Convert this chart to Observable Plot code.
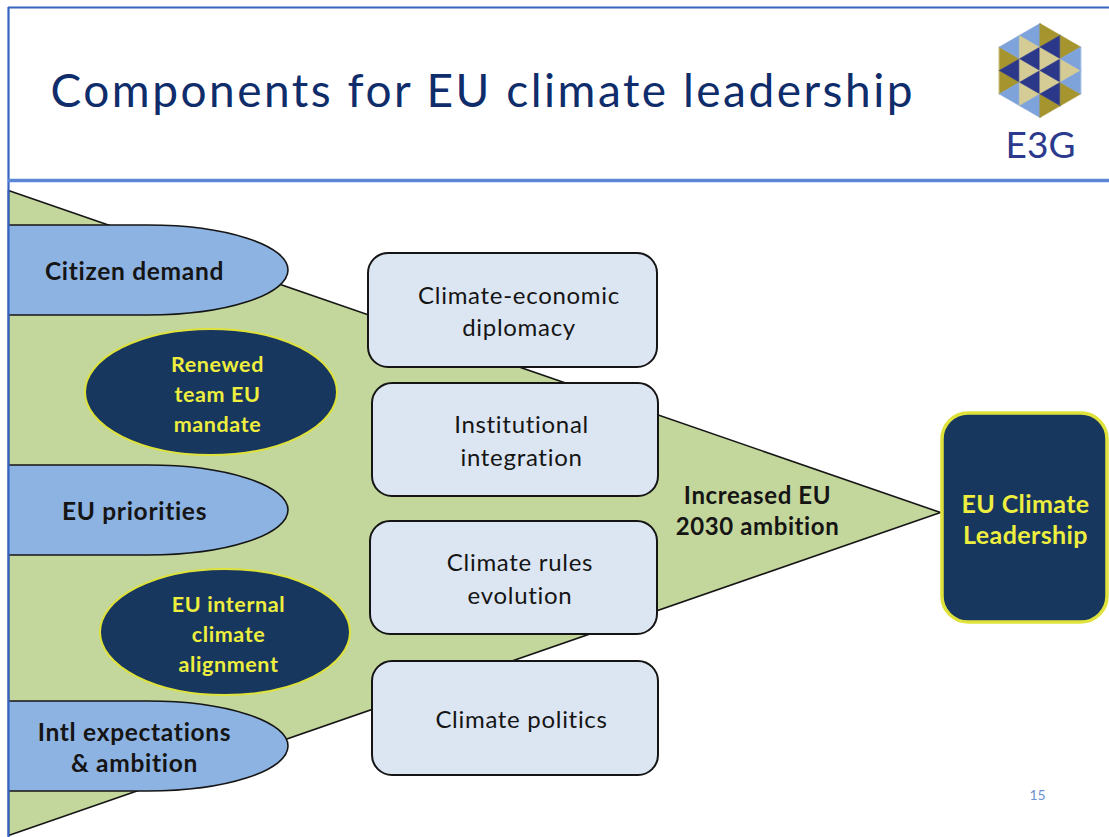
<!DOCTYPE html>
<html><head><meta charset="utf-8">
<script src="https://cdn.jsdelivr.net/npm/d3@7"></script>
<script src="https://cdn.jsdelivr.net/npm/@observablehq/plot@0.6"></script>
<style>body{margin:0;background:#fff}#chart svg{display:block}</style>
</head><body><div id="chart"></div>
<script>
// ---------------- data ----------------
const title = "Components for EU climate leadership";
const drivers = ["Citizen demand", "EU priorities", "Intl expectations\n& ambition"];
const enablers = ["Renewed\nteam EU\nmandate", "EU internal\nclimate\nalignment"];
const components = ["Climate-economic\ndiplomacy", "Institutional\nintegration", "Climate rules\nevolution", "Climate politics"];
const outcome = ["Increased EU\n2030 ambition"];
const goal = ["EU Climate\nLeadership"];
const brand = ["E3G"];
const pageNumber = ["15"];

// ---------------- layout (pixels) ----------------
const W = 1109, H = 837;
const L = {
  frameX: 8, frameY: 7, ruleY: 180,
  funnel: [[8, 190], [940, 512], [8, 835]],
  driverY: [270, 510, 746], driverRY: 45, driverRight: 288, driverRX: 140, driverTextX: 134,
  enabler: [{cx: 211, cy: 392, rx: 126, ry: 63, tx: 217}, {cx: 225, cy: 632, rx: 125, ry: 63, tx: 228}],
  comp: [
    {x1: 368, x2: 657, y1: 253, y2: 367},
    {x1: 372, x2: 658, y1: 383, y2: 496},
    {x1: 370, x2: 657, y1: 521, y2: 634},
    {x1: 372, x2: 658, y1: 661, y2: 775}
  ],
  compTextShift: 6,
  outcome: {x: 757, y: 509},
  goal: {x1: 942, x2: 1107, y1: 413, y2: 622, tx: 1025, ty: 518},
  title: {x: 50, y: 92},
  logo: {cx: 1039.5, cy: 70, R: 47, tx: 1040, ty: 146},
  page: {x: 1037, y: 795}
};
// letter spacing per text mark (in mark order) to approximate the original Calibri widths
const spacing = [0.7, 0.6, 0.7, 0.6, 0.4, 2.5, 0, 0];
const C = {
  green: "#c3d69b", lightBlue: "#8db3e2", navy: "#17375e", yellow: "#dfe23a", textYellow: "#eeee3e",
  box: "#dce6f2", ink: "#151515", title: "#0f2c6b", border: "#3664c2", rule: "#5b87d6", page: "#6f91d3"
};
// logo palette and pattern (per column: right-pointing then left-pointing triangles, top to bottom)
const LC = {n: "#2b3788", o: "#a6952f", t: "#d5cb94", b: "#7ea2da"};
const logoPattern = [
  {right: "oo", left: "bnb"},
  {right: "ttt", left: "bnnb"},
  {right: "otto", left: "nnn"},
  {right: "oto", left: "bb"}
];

// ---------------- geometry built from layout ----------------
const funnelPts = L.funnel.map(([x, y]) => ({x, y}));

const logoTris = [];
{
  const {cx, cy, R} = L.logo;
  const s = R / 2, w = s * Math.sqrt(3) / 2;
  const half = x => R - Math.abs(x - cx) / Math.sqrt(3);
  logoPattern.forEach((col, c) => {
    const xL = cx + (c - 2) * w, xR = xL + w;
    const add = (xBase, xApex, pattern) => {
      const h = half(xBase);
      [...pattern].forEach((k, j) => {
        const y0 = cy - h + j * s;
        const id = `${c}-${xBase}-${j}`;
        logoTris.push({id, x: xBase, y: y0, color: LC[k]});
        logoTris.push({id, x: xApex, y: y0 + s / 2, color: LC[k]});
        logoTris.push({id, x: xBase, y: y0 + s, color: LC[k]});
      });
    };
    add(xL, xR, col.right);
    add(xR, xL, col.left);
  });
}

const label = d => d;

const chart = Plot.plot({
  width: W, height: H,
  marginTop: 0, marginRight: 0, marginBottom: 0, marginLeft: L.frameX,
  x: {domain: [L.frameX, W], axis: null},
  y: {domain: [0, H], reverse: true, axis: null},
  color: {type: "identity"},
  style: {fontFamily: "Lato, 'Open Sans', sans-serif", background: "#fff", overflow: "visible"},
  marks: [
    // funnel triangle
    Plot.line(funnelPts, {x: "x", y: "y", curve: "linear-closed", fill: C.green, stroke: C.ink, strokeWidth: 1.6}),
    // driver (delay) shapes
    Plot.rect(drivers, {
      x1: L.driverRight - 2 * L.driverRX - 160, x2: L.driverRight,
      y1: (d, i) => L.driverY[i] - L.driverRY, y2: (d, i) => L.driverY[i] + L.driverRY,
      rx: L.driverRX, ry: L.driverRY, fill: C.lightBlue, stroke: C.ink, strokeWidth: 1.6, clip: true
    }),
    // enabler ellipses
    Plot.rect(enablers, {
      x1: (d, i) => L.enabler[i].cx - L.enabler[i].rx, x2: (d, i) => L.enabler[i].cx + L.enabler[i].rx,
      y1: (d, i) => L.enabler[i].cy - L.enabler[i].ry, y2: (d, i) => L.enabler[i].cy + L.enabler[i].ry,
      rx: 126, ry: 63, fill: C.navy, stroke: C.yellow, strokeWidth: 2
    }),
    // component boxes
    Plot.rect(components, {
      x1: (d, i) => L.comp[i].x1, x2: (d, i) => L.comp[i].x2,
      y1: (d, i) => L.comp[i].y1, y2: (d, i) => L.comp[i].y2,
      rx: 20, ry: 20, fill: C.box, stroke: C.ink, strokeWidth: 2
    }),
    // goal box
    Plot.rect(goal, {
      x1: L.goal.x1, x2: L.goal.x2, y1: L.goal.y1, y2: L.goal.y2,
      rx: 26, ry: 26, fill: C.navy, stroke: C.yellow, strokeWidth: 3.5
    }),
    // texts
    Plot.text(drivers, {x: L.driverTextX, y: (d, i) => L.driverY[i], text: label, fontSize: 24.5, fontWeight: 700, fill: C.ink, lineHeight: 1.27}),
    Plot.text(enablers, {x: (d, i) => L.enabler[i].tx, y: (d, i) => L.enabler[i].cy, text: label, fontSize: 21.5, fontWeight: 700, fill: C.textYellow, lineHeight: 1.38}),
    Plot.text(components, {x: (d, i) => (L.comp[i].x1 + L.comp[i].x2) / 2 + L.compTextShift, y: (d, i) => (L.comp[i].y1 + L.comp[i].y2) / 2 - 1, text: label, fontSize: 24, fontWeight: 400, fill: C.ink, lineHeight: 1.37}),
    Plot.text(outcome, {x: L.outcome.x, y: L.outcome.y, text: label, fontSize: 24, fontWeight: 700, fill: C.ink, lineHeight: 1.3}),
    Plot.text(goal, {x: L.goal.tx, y: L.goal.ty, text: label, fontSize: 25, fontWeight: 700, fill: C.textYellow, lineHeight: 1.24}),
    // slide frame and header rule
    Plot.ruleY([L.frameY], {x1: L.frameX, x2: W, stroke: C.border, strokeWidth: 2}),
    Plot.ruleX([L.frameX], {y1: L.frameY, y2: H, stroke: C.border, strokeWidth: 2.2}),
    Plot.ruleY([L.ruleY], {x1: L.frameX, x2: W, stroke: C.rule, strokeWidth: 3.5}),
    // title
    Plot.text([title], {x: L.title.x, y: L.title.y, text: label, textAnchor: "start", fontSize: 46, fill: C.title}),
    // logo
    Plot.line(logoTris, {x: "x", y: "y", z: "id", curve: "linear-closed", fill: "color", stroke: "color", strokeWidth: 0.6}),
    Plot.text(brand, {x: L.logo.tx, y: L.logo.ty, text: label, fontSize: 37, fill: "#2b3a8c"}),
    Plot.text(pageNumber, {x: L.page.x, y: L.page.y, text: label, fontSize: 14, fill: C.page})
  ]
});
chart.querySelectorAll('g[aria-label="text"]').forEach((g, i) => {
  if (spacing[i]) g.setAttribute("letter-spacing", spacing[i]);
});
document.getElementById("chart").append(chart);
</script>
</body></html>
